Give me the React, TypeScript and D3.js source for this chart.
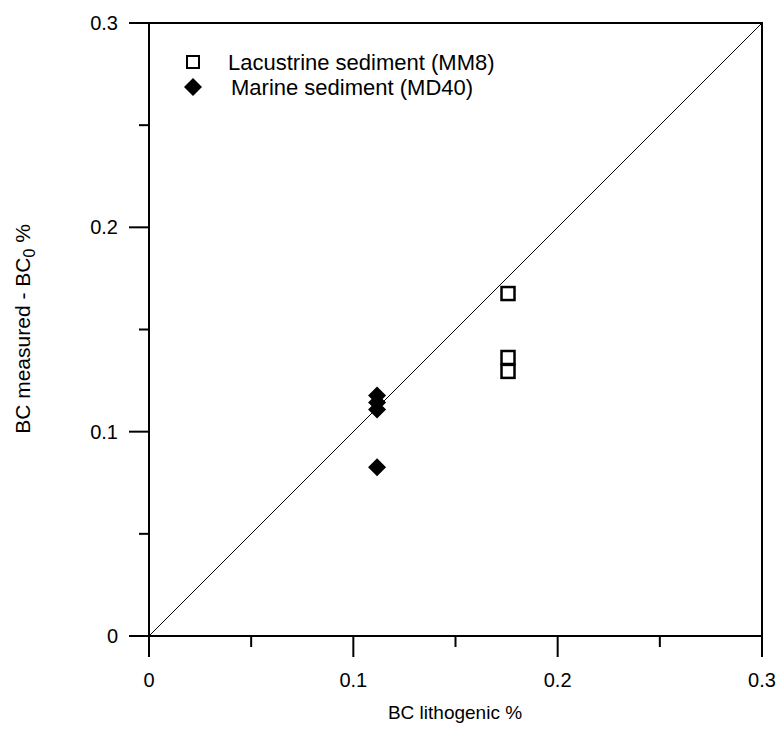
import React from "react";
import * as d3 from "d3";

const lacustrineX = [0.1757, 0.1757, 0.1757];
const lacustrineY = [0.1676, 0.1363, 0.1295];
const marineX = [0.1116, 0.1116, 0.1116, 0.1116];
const marineY = [0.1177, 0.1143, 0.1109, 0.0826];
const majorTicks = [0, 0.1, 0.2, 0.3];
const minorTicks = [0.05, 0.15, 0.25];
const legendLabels = ["Lacustrine sediment (MM8)", "Marine sediment (MD40)"];

export default function App() {
  const W = 779, H = 751;
  const left = 149, right = 762, top = 23, bottom = 636;
  const x = d3.scaleLinear().domain([0, 0.3]).range([left, right]);
  const y = d3.scaleLinear().domain([0, 0.3]).range([bottom, top]);
  const font = "Liberation Sans, Arial, sans-serif";
  const sq = 13;
  const dm = 9;
  const diamond = (cx: number, cy: number, r: number) =>
    `M${cx},${cy - r}L${cx + r},${cy}L${cx},${cy + r}L${cx - r},${cy}Z`;
  const line = d3.line<[number, number]>().x(d => x(d[0])).y(d => y(d[1]));
  const fmt = (t: number) => (t === 0 ? "0" : t.toFixed(1));
  return (
    <svg width={W} height={H} style={{ position: "absolute", left: 0, top: 0 }} fontFamily={font}>
      <rect x={0} y={0} width={W} height={H} fill="#fff" />
      <path d={line([[0, 0], [0.3, 0.3]]) || ""} stroke="#000" strokeWidth={1} fill="none" />
      <rect x={left} y={top} width={right - left} height={bottom - top} fill="none" stroke="#000" strokeWidth={2} />
      {majorTicks.map(t => (
        <g key={"mx" + t}>
          <line x1={x(t)} x2={x(t)} y1={bottom} y2={bottom + 21} stroke="#000" strokeWidth={2} />
          <text x={x(t)} y={687} fontSize={20} textAnchor="middle">{fmt(t)}</text>
          <line x1={left - 20} x2={left} y1={y(t)} y2={y(t)} stroke="#000" strokeWidth={2} />
          <text x={118} y={y(t) + 7} fontSize={20} textAnchor="end">{fmt(t)}</text>
        </g>
      ))}
      {minorTicks.map(t => (
        <g key={"mn" + t}>
          <line x1={x(t)} x2={x(t)} y1={bottom} y2={bottom + 11} stroke="#000" strokeWidth={2} />
          <line x1={left - 10} x2={left} y1={y(t)} y2={y(t)} stroke="#000" strokeWidth={2} />
        </g>
      ))}
      {lacustrineX.map((v, i) => (
        <rect key={"l" + i} x={x(v) - sq / 2} y={y(lacustrineY[i]) - sq / 2} width={sq} height={sq}
          fill="none" stroke="#000" strokeWidth={2.5} />
      ))}
      {marineX.map((v, i) => (
        <path key={"m" + i} d={diamond(x(v), y(marineY[i]), dm)} fill="#000" />
      ))}
      <rect x={193 - 6} y={62 - 6} width={12} height={12} fill="none" stroke="#000" strokeWidth={2} />
      <text x={228} y={70} fontSize={22}>{legendLabels[0]}</text>
      <path d={diamond(193, 87, 9)} fill="#000" />
      <text x={231} y={95} fontSize={22}>{legendLabels[1]}</text>
      <text x={455} y={719} fontSize={19} textAnchor="middle">BC lithogenic %</text>
      <text transform={`translate(30,329) rotate(-90)`} fontSize={21} textAnchor="middle">
        BC measured - BC<tspan fontSize={16} dy={5}>0</tspan><tspan dy={-5}> %</tspan>
      </text>
    </svg>
  );
}
